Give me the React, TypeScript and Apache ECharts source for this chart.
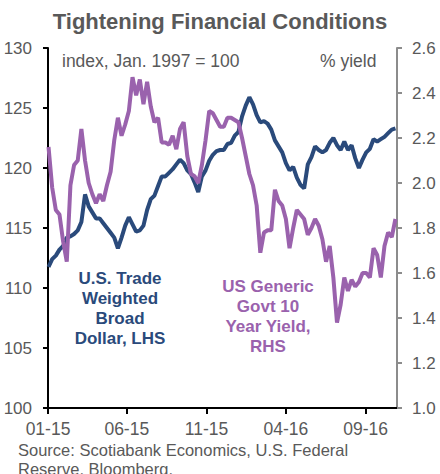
import React, { useEffect, useRef } from "react";
import * as echarts from "echarts";

const DATES = [
  "2015-01-02","2015-01-09","2015-01-16","2015-01-23","2015-01-30","2015-02-06","2015-02-13","2015-02-20","2015-02-27","2015-03-06",
  "2015-03-13","2015-03-20","2015-03-27","2015-04-03","2015-04-10","2015-04-17","2015-04-24","2015-05-01","2015-05-08","2015-05-15",
  "2015-05-22","2015-05-29","2015-06-05","2015-06-12","2015-06-19","2015-06-26","2015-07-03","2015-07-10","2015-07-17","2015-07-24",
  "2015-07-31","2015-08-07","2015-08-14","2015-08-21","2015-08-28","2015-09-04","2015-09-11","2015-09-18","2015-09-25","2015-10-02",
  "2015-10-09","2015-10-16","2015-10-23","2015-10-30","2015-11-06","2015-11-13","2015-11-20","2015-11-27","2015-12-04","2015-12-11",
  "2015-12-18","2015-12-25","2016-01-01","2016-01-08","2016-01-15","2016-01-22","2016-01-29","2016-02-05","2016-02-12","2016-02-19",
  "2016-02-26","2016-03-04","2016-03-11","2016-03-18","2016-03-25","2016-04-01","2016-04-08","2016-04-15","2016-04-22","2016-04-29",
  "2016-05-06","2016-05-13","2016-05-20","2016-05-27","2016-06-03","2016-06-10","2016-06-17","2016-06-24","2016-07-01","2016-07-08",
  "2016-07-15","2016-07-22","2016-07-29","2016-08-05","2016-08-12","2016-08-19","2016-08-26","2016-09-02","2016-09-09","2016-09-16",
  "2016-09-23","2016-09-30","2016-10-07","2016-10-14","2016-10-21","2016-10-28",
];

const DOLLAR = [
  111.75, 112.4, 112.7, 113.2, 113.5, 114.2, 114.3, 114.5, 114.8, 115.5,
  117.8, 116.8, 116.3, 115.8, 115.8, 115.4, 115.0, 114.6, 114.2, 113.3,
  114.2, 115.2, 115.9, 115.3, 114.7, 114.8, 115.2, 116.5, 117.4, 117.7,
  118.5, 119.3, 119.3, 119.6, 119.9, 120.3, 120.7, 120.4, 119.8, 119.5,
  118.8, 118.0, 119.3, 119.8, 120.6, 121.1, 121.4, 121.5, 121.5, 122.0,
  122.1, 122.7, 123.0, 124.3, 125.2, 125.9, 125.3, 124.4, 123.8, 123.9,
  123.7, 123.2, 122.3, 121.8, 121.3, 120.4, 119.8, 120.1, 119.2, 118.6,
  118.3, 120.3, 120.9, 121.8, 121.5, 121.3, 121.5, 122.1, 122.5, 121.9,
  121.5, 122.2, 121.5, 121.9, 120.8, 120.0, 120.7, 121.3, 121.6, 122.4,
  122.2, 122.4, 122.6, 122.9, 123.2, 123.3,
];

const YIELD = [
  2.16, 1.98, 1.88, 1.86, 1.74, 1.65, 1.99, 2.08, 2.10, 2.24,
  2.10, 2.00, 1.95, 1.91, 1.95, 1.92, 1.99, 2.05, 2.19, 2.29,
  2.21, 2.26, 2.32, 2.47, 2.39, 2.46, 2.35, 2.45, 2.34, 2.27,
  2.29, 2.18, 2.18, 2.17, 2.21, 2.15, 2.24, 2.27, 2.12, 2.04,
  2.03, 2.00, 2.08, 2.19, 2.32, 2.31, 2.28, 2.25, 2.25, 2.29,
  2.29, 2.28, 2.27, 2.20, 2.12, 2.04, 1.99, 1.90, 1.69, 1.78,
  1.79, 1.79, 1.97, 1.92, 1.90, 1.84, 1.71, 1.80, 1.88, 1.86,
  1.84, 1.77, 1.80, 1.84, 1.81, 1.75, 1.65, 1.72, 1.58, 1.38,
  1.46, 1.58, 1.52, 1.57, 1.54, 1.56, 1.60, 1.60, 1.58, 1.71,
  1.68, 1.58, 1.72, 1.78, 1.76, 1.84,
];

const X_TICKS = ["2015-01-01", "2015-06-01", "2015-11-01", "2016-04-01", "2016-09-01"];
const X_MIN = "2015-01-01";
const X_MAX = "2016-10-31";

const BLUE = "#2a4a7b";
const PURPLE = "#9a62ad";
const GRAY = "#595959";
const FONT = "Liberation Sans, Arial, sans-serif";

function ts(s: string) {
  const [y, m, d] = s.split("-").map(Number);
  return Date.UTC(y, m - 1, d);
}

export default function App() {
  const ref = useRef<HTMLDivElement>(null);
  useEffect(() => {
    if (!ref.current) return;
    const chart = echarts.init(ref.current, undefined, { renderer: "svg" });
    const tickVals = X_TICKS.map(ts);
    chart.setOption({
      animation: false,
      backgroundColor: "#ffffff",
      grid: { left: 48, right: 43, top: 48, bottom: 66 },
      xAxis: {
        type: "value",
        min: ts(X_MIN),
        max: ts(X_MAX),
        axisLine: { show: true, onZero: false, lineStyle: { color: "#000", width: 2 } },
        axisTick: { show: true, customValues: tickVals, length: 6, lineStyle: { color: "#000", width: 2 } },
        axisLabel: {
          customValues: tickVals,
          color: GRAY,
          fontSize: 17.5,
          fontFamily: FONT,
          margin: 12,
          formatter: (v: number) => {
            const d = new Date(v);
            const m = String(d.getUTCMonth() + 1).padStart(2, "0");
            const y = String(d.getUTCFullYear() % 100).padStart(2, "0");
            return m + "-" + y;
          },
        },
        splitLine: { show: false },
      },
      yAxis: [
        {
          type: "value",
          min: 100,
          max: 130,
          interval: 5,
          position: "left",
          axisLine: { show: true, lineStyle: { color: "#000", width: 2 } },
          axisTick: { show: true, length: 5, lineStyle: { color: "#000", width: 2 } },
          axisLabel: { color: GRAY, fontSize: 17, fontFamily: FONT, margin: 16 },
          splitLine: { show: false },
        },
        {
          type: "value",
          min: 1.0,
          max: 2.6,
          interval: 0.2,
          position: "right",
          axisLine: { show: true, lineStyle: { color: "#8c8c8c", width: 2 } },
          axisTick: { show: true, length: 5, lineStyle: { color: "#8c8c8c", width: 2 } },
          axisLabel: {
            color: GRAY,
            fontSize: 17,
            fontFamily: FONT,
            margin: 15,
            formatter: (v: number) => v.toFixed(1),
          },
          splitLine: { show: false },
        },
      ],
      series: [
        {
          name: "U.S. Trade Weighted Broad Dollar, LHS",
          type: "line",
          yAxisIndex: 0,
          showSymbol: false,
          symbol: "none",
          lineStyle: { color: BLUE, width: 4 },
          data: DATES.map((d, i) => [ts(d), DOLLAR[i]]),
        },
        {
          name: "US Generic Govt 10 Year Yield, RHS",
          type: "line",
          yAxisIndex: 1,
          showSymbol: false,
          symbol: "none",
          lineStyle: { color: PURPLE, width: 4 },
          data: DATES.map((d, i) => [ts(d), YIELD[i]]),
        },
      ],
      graphic: [
        {
          type: "text",
          left: "center",
          top: 10,
          style: { text: "Tightening Financial Conditions", fill: GRAY, font: `bold 22px ${FONT}` },
        },
        {
          type: "text",
          x: 62,
          y: 61,
          style: { text: "index, Jan. 1997 = 100", fill: GRAY, font: `17.5px ${FONT}`, verticalAlign: "middle" },
        },
        {
          type: "text",
          x: 320,
          y: 61,
          style: { text: "% yield", fill: GRAY, font: `17.5px ${FONT}`, verticalAlign: "middle" },
        },
        {
          type: "text",
          x: 120,
          y: 308,
          style: {
            text: "U.S. Trade\nWeighted\nBroad\nDollar, LHS",
            fill: BLUE,
            font: `bold 17px ${FONT}`,
            lineHeight: 20,
            align: "center",
            verticalAlign: "middle",
          },
        },
        {
          type: "text",
          x: 268,
          y: 316,
          style: {
            text: "US Generic\nGovt 10\nYear Yield,\nRHS",
            fill: PURPLE,
            font: `bold 17px ${FONT}`,
            lineHeight: 20,
            align: "center",
            verticalAlign: "middle",
          },
        },
        {
          type: "text",
          x: 18,
          y: 440,
          style: {
            text: "Source: Scotiabank Economics, U.S. Federal\nReserve, Bloomberg.",
            fill: GRAY,
            font: `16.5px ${FONT}`,
            lineHeight: 19,
          },
        },
      ],
    });
    return () => chart.dispose();
  }, []);
  return (
    <div
      ref={ref}
      style={{ position: "fixed", left: 0, top: 0, width: 440, height: 474, background: "#fff" }}
    />
  );
}
